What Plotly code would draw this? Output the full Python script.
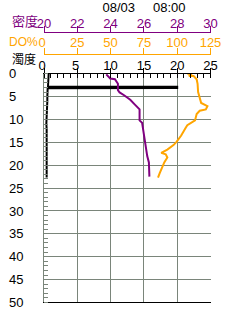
import plotly.graph_objects as go

# ---- data ----
turb_depth = [0, 1, 2, 2.8, 2.85, 3.1, 3.2, 4, 5, 6, 7, 8, 9, 10, 11, 12, 13, 14, 15, 16, 17, 18, 19, 20, 21, 22, 22.7]
turb_val = [0.7, 0.7, 0.65, 0.6, 20, 20, 0.55, 0.5, 0.5, 0.5, 0.45, 0.45, 0.45, 0.4, 0.35, 0.4, 0.45, 0.4, 0.4, 0.4, 0.35, 0.4, 0.45, 0.4, 0.4, 0.4, 0.4]

do_depth = [0, 0, 0.5, 0.5, 1.2, 2.2, 4, 5.4, 6.4, 7.1, 7.8, 8.1, 8.8, 10.2, 10.9, 11.25, 11.75, 13.5, 14.9, 15.6, 16.6, 17.3, 17.6, 18.3, 19.4, 20.8, 21.8, 22.7]
do_val = [107.6, 111, 108.8, 112.3, 114.6, 115.3, 115.7, 116.9, 118, 122.7, 121.5, 116.9, 114.6, 113.4, 110, 107.6, 106.5, 103, 99.5, 97.2, 92.6, 88, 91.4, 92.6, 90.3, 88, 86.8, 85.6]

dens_depth = [0.15, 1.04, 1.2, 2.2, 3.6, 4.1, 4.7, 5.7, 6.75, 7.8, 10.2, 10.7, 11.6, 13.8, 16.6, 18, 19.4, 22.5]
dens_val = [23.74, 23.98, 24.26, 24.44, 24.44, 24.54, 24.81, 25.18, 25.46, 25.74, 25.74, 25.89, 25.93, 26.02, 26.11, 26.2, 26.3, 26.33]

depth_ticks = list(range(0, 55, 5))
turb_ticks = [0, 5, 10, 15, 20, 25]
do_ticks = [0, 25, 50, 75, 100, 125]
dens_ticks = [20, 22, 24, 26, 28, 30]

NB = "\u00a0"
def pad(v, n=1):
    s = str(v)
    return s + NB * n if len(s) == 1 else s

PURPLE = "#800080"
ORANGE = "#FFA500"
GRID = "#7a857a"
FONT = "Liberation Sans"

fig = go.Figure()
fig.add_trace(go.Scatter(x=turb_val, y=turb_depth, mode="lines",
                         line=dict(color="black", width=2), xaxis="x", yaxis="y"))
fig.add_trace(go.Scatter(x=do_val, y=do_depth, mode="lines",
                         line=dict(color=ORANGE, width=2), xaxis="x2", yaxis="y"))
fig.add_trace(go.Scatter(x=dens_val, y=dens_depth, mode="lines",
                         line=dict(color=PURPLE, width=2), xaxis="x3", yaxis="y"))

dom_x = [40 / 240, 220 / 240]

fig.update_layout(
    width=240, height=320,
    margin=dict(l=0, r=0, t=0, b=0, pad=0),
    paper_bgcolor="white", plot_bgcolor="white",
    showlegend=False,
    font=dict(family=FONT, size=13, color="black"),
    title=dict(text="08/03" + NB * 5 + "08:00", x=144 / 240, xanchor="center",
               y=1 - 7 / 320, yanchor="middle", yref="container",
               font=dict(family=FONT, size=13, color="black")),
    xaxis=dict(domain=dom_x, range=[0, 25], side="top", anchor="y",
               tickvals=turb_ticks, ticktext=[pad(v) for v in turb_ticks],
               showgrid=True, gridcolor=GRID, gridwidth=1,
               showline=True, linecolor="black", linewidth=1, mirror=True,
               ticks="outside", ticklen=5, tickcolor="black",
               minor=dict(dtick=1, ticks="inside", ticklen=4, tickcolor="black", showgrid=False),
               zeroline=False, tickfont=dict(size=13, color="black"),
               ticklabelstandoff=-7),
    xaxis2=dict(domain=dom_x, range=[0, 125], side="top", overlaying="x", anchor="free",
                position=(320 - 49.3) / 320,
                tickvals=do_ticks, ticktext=[pad(v) for v in do_ticks],
                showgrid=False, showline=True, linecolor=ORANGE, linewidth=1,
                ticks="outside", ticklen=6, tickcolor=ORANGE, zeroline=False,
                tickfont=dict(size=13, color=ORANGE), ticklabelstandoff=-4),
    xaxis3=dict(domain=dom_x, range=[20, 30], side="top", overlaying="x", anchor="free",
                position=(320 - 26.7) / 320,
                tickvals=dens_ticks, ticktext=[str(v) for v in dens_ticks],
                showgrid=False, showline=True, linecolor=PURPLE, linewidth=1,
                ticks="outside", ticklen=6, tickcolor=PURPLE, zeroline=False,
                tickfont=dict(size=13, color=PURPLE), ticklabelstandoff=-7),
    yaxis=dict(domain=[10 / 320, 250 / 320], range=[50, 0],
               tickvals=depth_ticks, ticktext=[pad(v, 2) for v in depth_ticks],
               showgrid=True, gridcolor=GRID, gridwidth=1,
               showline=True, linecolor=GRID, linewidth=1,
               ticks="", minor=dict(dtick=1, ticks="inside", ticklen=4, tickcolor=GRID, showgrid=False),
               zeroline=False, tickfont=dict(size=13, color="black"),
               ticklabelstandoff=17),
    yaxis2=dict(domain=[10 / 320, 250 / 320], range=[50, 0], overlaying="y", side="right",
                anchor="x", showline=True, linecolor="black", linewidth=2,
                showticklabels=False, ticks="", showgrid=False, zeroline=False),
    annotations=[
        dict(text="密度", x=4 / 240, y=(320 - 14) / 320, xref="paper", yref="paper",
             xanchor="left", yanchor="middle", showarrow=False, borderpad=0,
             font=dict(family="Noto Sans CJK JP", size=13, color=PURPLE)),
        dict(text="DO%", x=1 / 240, y=(320 - 36.5) / 320, xref="paper", yref="paper",
             xanchor="left", yanchor="middle", showarrow=False, borderpad=0,
             font=dict(family=FONT, size=12, color=ORANGE)),
        dict(text="濁度", x=4 / 240, y=(320 - 54) / 320, xref="paper", yref="paper",
             xanchor="left", yanchor="middle", showarrow=False, borderpad=0,
             font=dict(family="Noto Sans CJK JP", size=12, color="black")),
    ],
)

fig.write_html("out.html")
